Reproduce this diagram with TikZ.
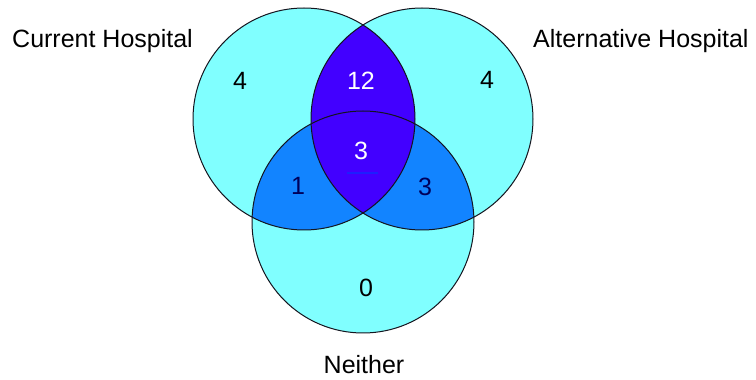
\documentclass[tikz,border=0pt]{standalone}
\usepackage{fontspec}
\setmainfont{Liberation Sans}
\definecolor{lightcyan}{RGB}{128,255,255}
\definecolor{midblue}{RGB}{18,132,255}
\definecolor{deepblue}{RGB}{66,0,255}
\definecolor{navytext}{RGB}{0,0,90}
\definecolor{outline}{RGB}{20,20,30}
\definecolor{ulblue}{RGB}{30,30,255}
\tikzset{
  lbl/.style={anchor=base, inner sep=0pt, font=\fontsize{25}{30}\selectfont},
  ring/.style={draw=outline, line width=1pt},
}
\begin{document}
\begin{tikzpicture}[x=1pt,y=1pt]
\useasboundingbox (0,0) rectangle (756,380);
\coordinate (cL) at (304,261);
\coordinate (cR) at (422,261);
\coordinate (cB) at (363,158);
\def\rad{111}
% single regions
\fill[lightcyan] (cL) circle (\rad);
\fill[lightcyan] (cR) circle (\rad);
\fill[lightcyan] (cB) circle (\rad);
% pairwise with bottom
\begin{scope}
  \clip (cB) circle (\rad);
  \fill[midblue] (cL) circle (\rad);
  \fill[midblue] (cR) circle (\rad);
\end{scope}
% left and right
\begin{scope}
  \clip (cL) circle (\rad);
  \fill[deepblue] (cR) circle (\rad);
\end{scope}
% outlines
\draw[ring] (cL) circle (\rad);
\draw[ring] (cR) circle (\rad);
\draw[ring] (cB) circle (\rad);
% labels
\node[lbl, anchor=base west] (tCur) at (12,332) {Current Hospital};
\node[lbl, anchor=base west] (tAlt) at (533,332) {Alternative Hospital};
\node[lbl] (tNei) at (364,6) {Neither};
% counts
\node[lbl] (nL) at (240,290) {4};
\node[lbl, text=white] (nLR) at (361,290) {12};
\node[lbl] (nR) at (487,291) {4};
\node[lbl, text=white] (nC) at (361,220) {3};
\node[lbl, text=navytext] (nLB) at (298,185) {1};
\node[lbl, text=navytext] (nRB) at (425,184) {3};
\node[lbl] (nB) at (366,83) {0};
\coordinate (u1) at (347,207);
\coordinate (u2) at (378,207);
\draw[ulblue, line width=1.4pt] (u1) -- (u2);
\end{tikzpicture}
\end{document}
